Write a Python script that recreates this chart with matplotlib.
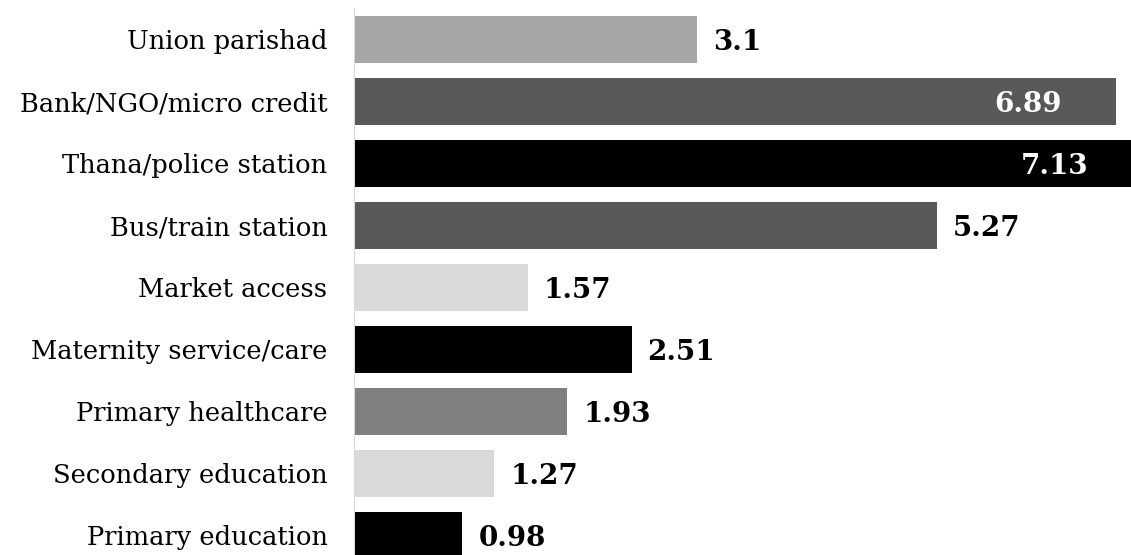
import matplotlib.pyplot as plt
import numpy as np

categories = ['Union parishad', 'Bank/NGO/micro credit', 'Thana/police station',
              'Bus/train station', 'Market access', 'Maternity service/care',
              'Primary healthcare', 'Secondary education', 'Primary education']
values = [3.1, 6.89, 7.13, 5.27, 1.57, 2.51, 1.93, 1.27, 0.98]
colors = ['#a6a6a6', '#595959', '#000000', '#595959', '#d9d9d9',
          '#000000', '#808080', '#d9d9d9', '#000000']
# bars whose value label sits inside the bar
inside = [False, True, True, False, False, False, False, False, False]

fig = plt.figure(figsize=(11.31, 5.55), dpi=100)
ax = fig.add_axes([354 / 1131, 0, 1 - 354 / 1131, 1])

y = np.arange(len(categories))
ax.barh(y, values, height=0.77, color=colors)
ax.set_xlim(0, 7.025)
ax.set_ylim(8.315, -0.637)

for i, v in enumerate(values):
    if inside[i]:
        ax.annotate(str(v), (v, i), xytext=(-54, -3), textcoords='offset pixels',
                    ha='right', va='center', color='white', fontsize=20,
                    fontweight='bold', family='DejaVu Serif', annotation_clip=False)
    else:
        ax.annotate(str(v), (v, i), xytext=(16, -3), textcoords='offset pixels',
                    ha='left', va='center', color='black', fontsize=20,
                    fontweight='bold', family='DejaVu Serif', annotation_clip=False)

ax.set_yticks(y)
ax.set_yticklabels(categories, family='DejaVu Serif', fontsize=18.5)
ax.tick_params(axis='y', length=0, pad=19)
ax.set_xticks([])
for s in ['top', 'right', 'bottom']:
    ax.spines[s].set_visible(False)
ax.spines['left'].set_color('#d9d9d9')
ax.spines['left'].set_bounds(8.315, -0.49)

fig.savefig('out.png', dpi=100)
